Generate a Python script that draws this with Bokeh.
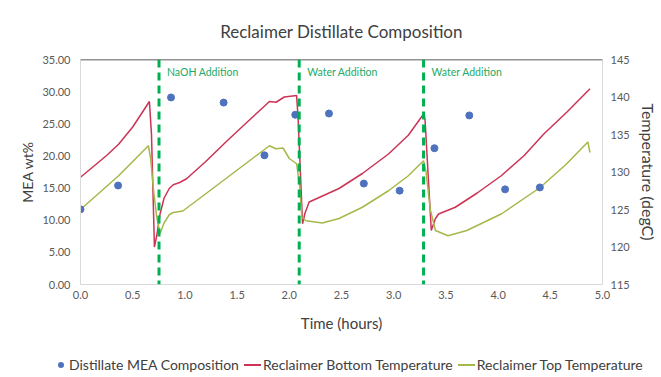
from bokeh.plotting import figure
from bokeh.layouts import column
from bokeh.models import (Range1d, LinearAxis, SingleIntervalTicker, NumeralTickFormatter,
                          Span, ColumnDataSource, Div)
from bokeh.core.properties import value
from bokeh.embed import file_html
from bokeh.resources import INLINE

# ---------------- data ----------------
mea_time = [0.0, 0.36, 0.867, 1.371, 1.762, 2.057, 2.38, 2.714, 3.057, 3.39, 3.724, 4.067, 4.40]
mea_wt = [11.7, 15.4, 29.1, 28.3, 20.1, 26.4, 26.6, 15.7, 14.6, 21.2, 26.3, 14.8, 15.1]

bottom_time = [0.0, 0.25, 0.365, 0.5, 0.66, 0.68, 0.708, 0.73, 0.762, 0.80, 0.85, 0.889, 0.95,
               1.016, 1.2, 1.4, 1.6, 1.81, 1.873, 1.952, 2.07, 2.085, 2.127, 2.15, 2.19, 2.286,
               2.476, 2.70, 2.95, 3.14, 3.29, 3.30, 3.36, 3.40, 3.43, 3.59, 3.80, 4.03, 4.25,
               4.44, 4.66, 4.88]
bottom_temp = [129.3, 132.2, 133.7, 136.0, 139.4, 135.0, 120.0, 121.5, 124.4, 126.5, 127.8, 128.3,
               128.6, 129.1, 131.4, 134.1, 136.7, 139.4, 139.3, 140.0, 140.2, 137.0, 123.1, 124.5,
               126.0, 126.6, 127.8, 129.8, 132.4, 134.9, 137.8, 137.0, 122.2, 123.8, 124.4, 125.3,
               127.2, 129.5, 132.2, 135.1, 138.0, 141.1]

top_time = [0.0, 0.365, 0.65, 0.67, 0.70, 0.73, 0.762, 0.80, 0.85, 0.889, 0.98, 1.2, 1.4, 1.6,
            1.81, 1.87, 1.94, 2.0, 2.07, 2.10, 2.12, 2.16, 2.317, 2.476, 2.70, 2.95, 3.14, 3.286,
            3.31, 3.35, 3.40, 3.52, 3.70, 4.03, 4.40, 4.65, 4.86, 4.88]
top_temp = [125.0, 129.5, 133.5, 132.0, 127.5, 124.0, 121.8, 123.2, 124.3, 124.6, 124.8, 127.1,
            129.2, 131.3, 133.5, 133.1, 133.2, 131.8, 131.1, 128.0, 124.0, 123.5, 123.2, 123.8,
            125.3, 127.5, 129.5, 131.5, 130.0, 125.0, 122.2, 121.5, 122.2, 124.4, 127.9, 131.0,
            134.0, 132.6]

event_time = [0.752, 2.095, 3.286]
event_label = ["NaOH Addition", "Water Addition", "Water Addition"]

title_text = "Reclaimer Distillate Composition"
x_label = "Time (hours)"
y_left_label = "MEA wt%"
y_right_label = "Temperature (degC)"
series_names = ["Distillate MEA Composition", "Reclaimer Bottom Temperature", "Reclaimer Top Temperature"]

# ---------------- styling ----------------
FONT = "Lato"
TXT = "#404040"
TICK = "#595959"
AXIS_LINE = "#d9d9d9"
BLUE = "#4f72be"
RED = "#cc3355"
GREEN = "#a5b84a"
DASH_GREEN = "#00b050"
NOTE_GREEN = "#22aa66"

p = figure(width=660, height=336, output_backend="svg", toolbar_location=None,
           x_range=Range1d(0, 5), y_range=Range1d(0, 35),
           min_border_left=80, min_border_right=54, min_border_top=59, min_border_bottom=52,
           background_fill_color="white", border_fill_color="white")
p.outline_line_color = None
p.xgrid.visible = False
p.ygrid.visible = False

p.title.text = title_text
p.title.align = "center"
p.title.text_font = FONT
p.title.text_font_size = "17px"
p.title.text_font_style = "normal"
p.title.text_color = TXT
p.title.standoff = 35

p.extra_y_ranges = {"temp": Range1d(115, 145)}

# axes
xa = p.xaxis[0]
xa.ticker = SingleIntervalTicker(interval=0.5)
xa.formatter = NumeralTickFormatter(format="0.0")
xa.axis_label = x_label

ya = p.yaxis[0]
ya.ticker = SingleIntervalTicker(interval=5)
ya.formatter = NumeralTickFormatter(format="0.00")
ya.axis_label = y_left_label

yr = LinearAxis(y_range_name="temp", ticker=SingleIntervalTicker(interval=5),
                formatter=NumeralTickFormatter(format="0"), axis_label=y_right_label)
p.add_layout(yr, "right")

for ax in (xa, ya, yr):
    ax.axis_line_color = AXIS_LINE
    ax.axis_line_width = 1
    ax.major_tick_line_color = None
    ax.minor_tick_line_color = None
    ax.major_tick_out = 0
    ax.major_tick_in = 0
    ax.minor_tick_out = 0
    ax.minor_tick_in = 0
    ax.major_label_text_font = FONT
    ax.major_label_text_font_size = "11px"
    ax.major_label_text_color = TICK
    ax.axis_label_text_font = FONT
    ax.axis_label_text_font_style = "normal"
    ax.axis_label_text_color = TXT

xa.major_label_standoff = 6
xa.axis_label_text_font_size = "15px"
xa.axis_label_standoff = 12
ya.major_label_standoff = 10
ya.axis_label_text_font_size = "14px"
ya.axis_label_standoff = 3
yr.major_label_standoff = 8
yr.axis_label_text_font_size = "16px"
yr.axis_label_standoff = 6

# top dark line
p.add_layout(Span(location=35, dimension="width", line_color="#262626", line_width=1.5))

# series
p.line(bottom_time, bottom_temp, y_range_name="temp", line_color=RED, line_width=1.5)
p.line(top_time, top_temp, y_range_name="temp", line_color=GREEN, line_width=1.5)
p.scatter(mea_time, mea_wt, marker="circle", size=7, fill_color=BLUE, line_color=BLUE)

# events
for t in event_time:
    p.add_layout(Span(location=t, dimension="height", line_color=DASH_GREEN,
                      line_width=3, line_dash="8 5"))
ev = ColumnDataSource(dict(x=event_time, y=[35] * len(event_time), t=event_label))
p.text(x="x", y="y", text="t", source=ev, x_offset=8, y_offset=12,
       text_font=value(FONT), text_font_size="10.5px", text_color=NOTE_GREEN,
       text_baseline="middle", text_align="left")

# ---------------- legend strip below the chart (HTML) ----------------
markers = [
    f'<span style="display:inline-block;width:6px;height:6px;border-radius:50%;background:{BLUE};margin:0 5px 0 3px;"></span>',
    f'<span style="display:inline-block;width:17px;height:2px;background:{RED};margin:0 2px 0 5px;"></span>',
    f'<span style="display:inline-block;width:17px;height:2px;background:{GREEN};margin:0 2px 0 5px;"></span>',
]
items_html = "".join(f'{m}<span>{name}</span>' for m, name in zip(markers, series_names))
legend_html = (
    f'<div style="position:relative;width:660px;height:40px;">'
    f'<div style="position:absolute;left:50px;top:15px;display:flex;align-items:center;'
    f'white-space:nowrap;font-family:{FONT};font-size:14px;color:{TXT};line-height:18px;">'
    f'{items_html}</div></div>'
)
legend_div = Div(text=legend_html, width=660, height=40)

page = column(p, legend_div, spacing=0)
open("out.html", "w").write(file_html(page, INLINE))
